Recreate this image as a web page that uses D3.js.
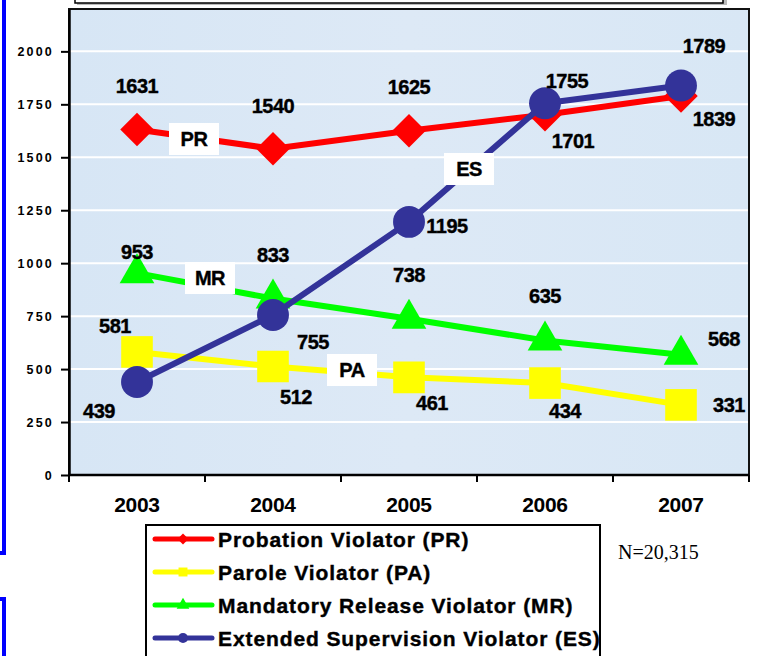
<!DOCTYPE html>
<html>
<head>
<meta charset="utf-8">
<script src="https://cdn.jsdelivr.net/npm/d3@7"></script>
<style>
  html, body { margin: 0; padding: 0; background: #fff; }
  svg { display: block; font-family: Arial, "Liberation Sans", sans-serif; }
</style>
</head>
<body>
<script>
const years    = ['2003', '2004', '2005', '2006', '2007'];
const prValues = [1631, 1540, 1625, 1701, 1789];
const paValues = [581, 512, 461, 434, 331];
const mrValues = [953, 833, 738, 635, 568];
const esValues = [439, 755, 1195, 1755, 1839];
const prLabels = ['1631', '1540', '1625', '1701', '1839'];
const paLabels = ['581', '512', '461', '434', '331'];
const mrLabels = ['953', '833', '738', '635', '568'];
const esLabels = ['439', '755', '1195', '1755', '1789'];
const yTicks   = [0, 250, 500, 750, 1000, 1250, 1500, 1750, 2000];
const legendNames = [
  'Probation Violator (PR)',
  'Parole Violator (PA)',
  'Mandatory Release Violator (MR)',
  'Extended Supervision Violator (ES)'
];

const width  = 757,
      height = 656,
      plot   = { left: 69, right: 749, top: 9, bottom: 475 };

const x = d3.scalePoint().domain(years).range([plot.left, plot.right]).padding(0.5);
const y = d3.scaleLinear().domain([0, 2200]).range([plot.bottom, plot.top]);

// label offsets (dx, dy to baseline) per series, per year
const series = [
  { key: 'PR', values: prValues, labels: prLabels, color: '#ff0000', shape: 'diamond',
    offs: [[0, -37], [0, -36], [0, -37], [28, 33], [33, 30]], tag: [194, 139] },
  { key: 'PA', values: paValues, labels: paLabels, color: '#ffff00', shape: 'square',
    offs: [[-22, -19], [23, 37], [23, 33], [20, 35], [48, 7]], tag: [352, 370] },
  { key: 'MR', values: mrValues, labels: mrLabels, color: '#00ff00', shape: 'triangle',
    offs: [[0, -14], [0, -37], [0, -37], [0, -37], [43, -9]], tag: [210, 278] },
  { key: 'ES', values: esValues, labels: esLabels, color: '#333399', shape: 'circle',
    offs: [[-38, 36], [40, 34], [38, 11], [22, -15], [23, -32]], tag: [469, 169] }
];

const symbolFor = {
  diamond:  d3.symbol().type(d3.symbolSquare).size(560),
  square:   d3.symbol().type(d3.symbolSquare).size(1000),
  triangle: d3.symbol().type(d3.symbolTriangle).size(520),
  circle:   d3.symbol().type(d3.symbolCircle).size(800)
};
const smallSymbol = {
  diamond:  d3.symbol().type(d3.symbolSquare).size(60),
  square:   d3.symbol().type(d3.symbolSquare).size(80),
  triangle: d3.symbol().type(d3.symbolTriangle).size(70),
  circle:   d3.symbol().type(d3.symbolCircle).size(80)
};

const svg = d3.select('body').append('svg')
  .attr('width', width)
  .attr('height', height);

// slide decorations: blue frame edges and cut-off title box
svg.append('rect').attr('x', -10).attr('y', -10).attr('width', 14).attr('height', 563)
  .attr('fill', 'none').attr('stroke', '#0000ff').attr('stroke-width', 4);
svg.append('rect').attr('x', -10).attr('y', 599).attr('width', 14).attr('height', 80)
  .attr('fill', 'none').attr('stroke', '#0000ff').attr('stroke-width', 4);
svg.append('rect').attr('x', 77).attr('y', -10).attr('width', 650).attr('height', 15)
  .attr('fill', '#bbb');
svg.append('rect').attr('x', 75).attr('y', -10).attr('width', 648).attr('height', 13)
  .attr('fill', '#fff').attr('stroke', '#000').attr('stroke-width', 1.5);

// plot background, pale blue with a faint variation
const defs = svg.append('defs');
const grad = defs.append('linearGradient').attr('id', 'bg').attr('x1', 0).attr('y1', 0).attr('x2', 1).attr('y2', 0);
grad.append('stop').attr('offset', '0%').attr('stop-color', '#d7e6f5');
grad.append('stop').attr('offset', '50%').attr('stop-color', '#dde9f6');
grad.append('stop').attr('offset', '100%').attr('stop-color', '#d8e7f5');

svg.append('rect')
  .attr('x', plot.left).attr('y', plot.top)
  .attr('width', plot.right - plot.left).attr('height', plot.bottom - plot.top)
  .attr('fill', 'url(#bg)');

// gridlines
svg.append('g')
  .selectAll('line')
  .data(yTicks.filter(d => d > 0))
  .join('line')
  .attr('x1', plot.left).attr('x2', plot.right)
  .attr('y1', d => y(d)).attr('y2', d => y(d))
  .attr('stroke', '#fff').attr('stroke-width', 2);

// border
svg.append('rect')
  .attr('x', plot.left).attr('y', plot.top)
  .attr('width', plot.right - plot.left).attr('height', plot.bottom - plot.top)
  .attr('fill', 'none').attr('stroke', '#111').attr('stroke-width', 2);

// y axis
const yAxis = svg.append('g')
  .attr('transform', `translate(${plot.left},0)`)
  .call(d3.axisLeft(y).tickValues(yTicks).tickFormat(d3.format('d'))
    .tickSize(8).tickPadding(7).tickSizeOuter(0));
yAxis.select('.domain').attr('stroke', '#000').attr('stroke-width', 2.5);
yAxis.selectAll('.tick line').attr('stroke', '#000').attr('stroke-width', 2);
yAxis.selectAll('.tick text')
  .attr('fill', '#000')
  .style('font-family', 'Arial, "Liberation Sans", sans-serif')
  .style('font-size', '12.5px')
  .style('font-weight', 'bold')
  .style('letter-spacing', '2.2px');

// x axis: ticks on category boundaries
const step = x.step();
const bounds = years.map(d => x(d) - step / 2).concat([x(years[years.length - 1]) + step / 2]);
svg.append('line')
  .attr('x1', plot.left).attr('x2', plot.right)
  .attr('y1', plot.bottom).attr('y2', plot.bottom)
  .attr('stroke', '#000').attr('stroke-width', 2.5);
svg.append('g')
  .selectAll('line')
  .data(bounds)
  .join('line')
  .attr('x1', d => d).attr('x2', d => d)
  .attr('y1', plot.bottom).attr('y2', plot.bottom + 7)
  .attr('stroke', '#000').attr('stroke-width', 2);
svg.append('g')
  .selectAll('text')
  .data(years)
  .join('text')
  .attr('x', d => x(d))
  .attr('y', 512)
  .attr('text-anchor', 'middle')
  .style('font-size', '21px')
  .style('font-weight', 'bold')
  .style('letter-spacing', '-0.3px')
  .text(d => d);

// lines and markers
const line = d3.line().x((d, i) => x(years[i])).y(d => y(d));

for (const s of series) {
  svg.append('path')
    .datum(s.values)
    .attr('d', line)
    .attr('fill', 'none')
    .attr('stroke', s.color)
    .attr('stroke-width', 6)
    .attr('stroke-linejoin', 'round');

  svg.append('g')
    .selectAll('path')
    .data(s.values)
    .join('path')
    .attr('d', symbolFor[s.shape])
    .attr('transform', (d, i) =>
      `translate(${x(years[i])},${y(d)})` + (s.shape === 'diamond' ? ' rotate(45)' : ''))
    .attr('fill', s.color);
}

// value labels
for (const s of series) {
  svg.append('g')
    .selectAll('text')
    .data(s.values)
    .join('text')
    .attr('x', (d, i) => x(years[i]) + s.offs[i][0])
    .attr('y', (d, i) => y(d) + s.offs[i][1])
    .attr('text-anchor', 'middle')
    .attr('stroke', '#000').attr('stroke-width', 0.4)
    .style('font-size', '20px')
    .style('font-weight', 'bold')
    .style('letter-spacing', '-0.5px')
    .text((d, i) => s.labels[i]);
}

// series tags in white boxes
for (const s of series) {
  const g = svg.append('g').attr('transform', `translate(${s.tag[0]},${s.tag[1]})`);
  g.append('rect').attr('x', -25).attr('y', -16).attr('width', 50).attr('height', 32).attr('fill', '#fff');
  g.append('text')
    .attr('y', 7)
    .attr('text-anchor', 'middle')
    .attr('stroke', '#000').attr('stroke-width', 0.4)
    .style('font-size', '20px')
    .style('font-weight', 'bold')
    .style('letter-spacing', '-0.5px')
    .text(s.key);
}

// legend
const legend = svg.append('g');
legend.append('rect')
  .attr('x', 146).attr('y', 525).attr('width', 454).attr('height', 160)
  .attr('fill', '#fff').attr('stroke', '#000').attr('stroke-width', 2);

const rows = legend.selectAll('g.row')
  .data(series)
  .join('g')
  .attr('class', 'row')
  .attr('transform', (d, i) => `translate(0,${539 + i * 33})`);
rows.append('line')
  .attr('x1', 155).attr('x2', 212)
  .attr('stroke', d => d.color).attr('stroke-width', 5).attr('stroke-linecap', 'round');
rows.append('path')
  .attr('d', d => smallSymbol[d.shape]())
  .attr('transform', d => 'translate(183,0)' + (d.shape === 'diamond' ? ' rotate(45)' : ''))
  .attr('fill', d => d.color);
rows.append('text')
  .attr('x', 218)
  .attr('y', 8)
  .attr('stroke', '#000').attr('stroke-width', 0.4)
  .style('font-size', '21px')
  .style('font-weight', 'bold')
  .style('letter-spacing', '0.9px')
  .text((d, i) => legendNames[i]);

svg.append('text')
  .attr('x', 618).attr('y', 559)
  .style('font-family', '"Liberation Serif", "Times New Roman", serif')
  .style('font-size', '20px')
  .text('N=20,315');
</script>
</body>
</html>
